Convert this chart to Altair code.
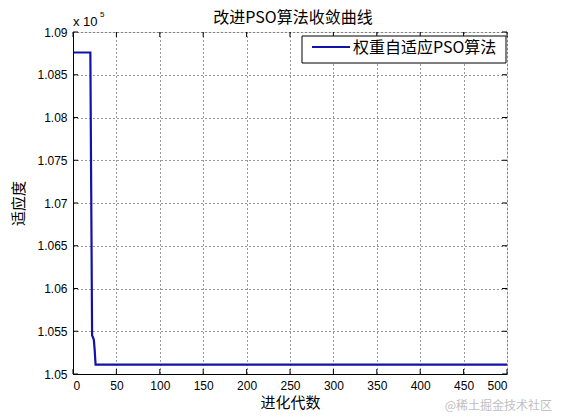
import altair as alt
import pandas as pd

# ---- data ----
gen = [1, 20, 21, 22, 23, 24, 25, 26, 500]
fit = [1.0876, 1.0876, 1.0710, 1.0545, 1.0543, 1.0540, 1.0528, 1.0511, 1.0511]
x_ticks = [0, 50, 100, 150, 200, 250, 300, 350, 400, 450, 500]
y_ticks = [1.05, 1.055, 1.06, 1.065, 1.07, 1.075, 1.08, 1.085, 1.09]
series_name = ["权重自适应PSO算法"]
title_text = ["改进PSO算法收敛曲线"]
x_title = "进化代数"
y_title = "适应度"
exp_base = ["x 10"]
exp_power = ["5"]
watermark = ["@稀土掘金技术社区"]

W, H = 434, 342
CJK = "Noto Sans CJK SC"
LAT = "Liberation Sans"
LINE_COLOR = "#1212a8"

df = pd.DataFrame({"gen": gen, "fit": fit})
xt = pd.DataFrame({"t": x_ticks})
yt = pd.DataFrame({"t": y_ticks})

xs = alt.Scale(domain=[0, 500], nice=False, zero=False)
ys = alt.Scale(domain=[1.05, 1.09], nice=False, zero=False)

line = alt.Chart(df).mark_line(strokeWidth=2.2, color=LINE_COLOR).encode(
    x=alt.X("gen:Q", scale=xs,
            axis=alt.Axis(values=x_ticks, title=x_title, grid=True, ticks=False,
                          labelFont=LAT, labelFontSize=12, labelColor="black",
                          titleFont=CJK, titleFontSize=15, titleFontWeight="normal",
                          titleColor="black", titlePadding=4, labelPadding=6,
                          gridColor="black", gridDash=[1, 3], gridOpacity=0.8,
                          domainColor="black")),
    y=alt.Y("fit:Q", scale=ys,
            axis=alt.Axis(values=y_ticks, title=y_title, grid=True, ticks=False,
                          format="~g",
                          labelFont=LAT, labelFontSize=12, labelColor="black",
                          titleFont=CJK, titleFontSize=15, titleFontWeight="normal",
                          titleColor="black", titlePadding=10, labelPadding=6,
                          gridColor="black", gridDash=[1, 3], gridOpacity=0.8,
                          domainColor="black")),
)

tick_b = alt.Chart(xt).mark_rule(color="black").encode(
    x=alt.X("t:Q", scale=xs), y=alt.value(H), y2=alt.value(H - 5))
tick_t = alt.Chart(xt).mark_rule(color="black").encode(
    x=alt.X("t:Q", scale=xs), y=alt.value(0), y2=alt.value(5))
tick_l = alt.Chart(yt).mark_rule(color="black").encode(
    y=alt.Y("t:Q", scale=ys), x=alt.value(0), x2=alt.value(5))
tick_r = alt.Chart(yt).mark_rule(color="black").encode(
    y=alt.Y("t:Q", scale=ys), x=alt.value(W), x2=alt.value(W - 5))

# legend box (drawn by hand to match the MATLAB-style legend)
leg_df = pd.DataFrame({"s": series_name})
leg_box = alt.Chart(leg_df).mark_rect(fill="white", stroke="black", strokeWidth=1).encode(
    x=alt.value(W - 205), x2=alt.value(W - 1), y=alt.value(4), y2=alt.value(31))
leg_line = alt.Chart(leg_df).mark_rule(color=LINE_COLOR, strokeWidth=2.2).encode(
    x=alt.value(W - 195), x2=alt.value(W - 157), y=alt.value(15))
leg_text = alt.Chart(leg_df).mark_text(
    align="left", baseline="middle", font=CJK, fontSize=16, color="black").encode(
    text="s:N", x=alt.value(W - 154), y=alt.value(16))

title = alt.Chart(pd.DataFrame({"s": title_text})).mark_text(
    align="center", baseline="middle", font=CJK, fontSize=16, color="black").encode(
    text="s:N", x=alt.value(W / 2 + 3), y=alt.value(-14))
exp1 = alt.Chart(pd.DataFrame({"s": exp_base})).mark_text(
    align="left", baseline="alphabetic", font=LAT, fontSize=13, color="black").encode(
    text="s:N", x=alt.value(0), y=alt.value(-6))
exp2 = alt.Chart(pd.DataFrame({"s": exp_power})).mark_text(
    align="left", baseline="alphabetic", font=LAT, fontSize=8, color="black").encode(
    text="s:N", x=alt.value(27), y=alt.value(-15))
wm = alt.Chart(pd.DataFrame({"s": watermark})).mark_text(
    align="right", baseline="middle", font=CJK, fontSize=12, color="#c0c0c0").encode(
    text="s:N", x=alt.value(479), y=alt.value(374))

chart = alt.layer(line, tick_b, tick_t, tick_l, tick_r, leg_box, leg_line, leg_text,
                  title, exp1, exp2, wm).properties(
    width=W, height=H,
    autosize=alt.AutoSizeParams(type="none"),
    padding={"left": 65, "top": 24, "right": 46, "bottom": 38},
).configure_view(stroke="black", strokeWidth=1).configure(background="white")

chart.save("out.html", embed_options={"renderer": "svg", "actions": False})
